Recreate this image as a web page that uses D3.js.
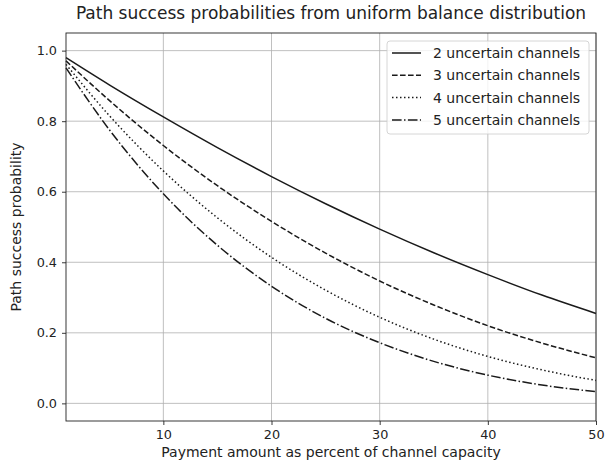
<!DOCTYPE html>
<html>
<head>
<meta charset="utf-8">
<script src="https://cdn.jsdelivr.net/npm/d3@7"></script>
<style>
  body { margin: 0; background: #fff; }
  text { font-family: "DejaVu Sans", sans-serif; fill: #222; }
</style>
</head>
<body>
<svg id="chart" width="616" height="466"></svg>
<script>
const xValues = [1, 5, 10, 15, 20, 25, 30, 35, 40, 45, 50];
const channels2 = [0.980, 0.903, 0.812, 0.725, 0.643, 0.566, 0.494, 0.427, 0.365, 0.307, 0.255];
const channels3 = [0.971, 0.859, 0.731, 0.617, 0.516, 0.426, 0.347, 0.279, 0.220, 0.171, 0.129];
const channels4 = [0.961, 0.816, 0.659, 0.526, 0.414, 0.321, 0.244, 0.182, 0.133, 0.095, 0.065];
const channels5 = [0.951, 0.776, 0.594, 0.448, 0.332, 0.241, 0.172, 0.119, 0.080, 0.052, 0.033];
const seriesNames = ["2 uncertain channels", "3 uncertain channels", "4 uncertain channels", "5 uncertain channels"];
const xTicks = [10, 20, 30, 40, 50];
const yTicks = [0.0, 0.2, 0.4, 0.6, 0.8, 1.0];

const series = [channels2, channels3, channels4, channels5];
const dashes = [null, "5.6,2.4", "1.5,2.5", "9.6,2.4,1.5,2.4"];

const svg = d3.select("#chart");
const pLeft = 66, pRight = 596, pTop = 33, pBottom = 421;
const x = d3.scaleLinear().domain([1, 50]).range([pLeft, pRight]);
const y = d3.scaleLinear().domain([-0.05, 1.05]).range([pBottom, pTop]);

// grid
svg.append("g").selectAll("line").data(xTicks).join("line")
  .attr("x1", d => x(d)).attr("x2", d => x(d)).attr("y1", pTop).attr("y2", pBottom)
  .attr("stroke", "#b0b0b0").attr("stroke-width", 0.8);
svg.append("g").selectAll("line").data(yTicks).join("line")
  .attr("x1", pLeft).attr("x2", pRight).attr("y1", d => y(d)).attr("y2", d => y(d))
  .attr("stroke", "#b0b0b0").attr("stroke-width", 0.8);

// lines
const line = d3.line().x((d, i) => x(xValues[i])).y(d => y(d)).curve(d3.curveMonotoneX);
series.forEach((s, k) => {
  svg.append("path").datum(s).attr("d", line)
    .attr("fill", "none").attr("stroke", "#1a1a1a").attr("stroke-width", 1.5)
    .attr("stroke-dasharray", dashes[k]);
});

// axes
const xAxis = d3.axisBottom(x).tickValues(xTicks).tickFormat(d3.format("d")).tickSize(4).tickPadding(4.5);
const yAxis = d3.axisLeft(y).tickValues(yTicks).tickFormat(d3.format(".1f")).tickSize(4).tickPadding(5);
const gx = svg.append("g").attr("transform", `translate(0,${pBottom})`).call(xAxis);
const gy = svg.append("g").attr("transform", `translate(${pLeft},0)`).call(yAxis);
[gx, gy].forEach(g => {
  g.select(".domain").remove();
  g.selectAll(".tick line").attr("stroke", "#222").attr("stroke-width", 0.9);
  g.selectAll(".tick text").attr("font-size", 12.8).style("font-family", "DejaVu Sans").attr("fill", "#222");
});

// frame
svg.append("rect").attr("x", pLeft).attr("y", pTop).attr("width", pRight - pLeft).attr("height", pBottom - pTop)
  .attr("fill", "none").attr("stroke", "#222").attr("stroke-width", 0.9);

// title and labels
svg.append("text").attr("x", (pLeft + pRight) / 2).attr("y", 19).attr("text-anchor", "middle")
  .attr("font-size", 17).text("Path success probabilities from uniform balance distribution");
svg.append("text").attr("x", (pLeft + pRight) / 2).attr("y", 457).attr("text-anchor", "middle")
  .attr("font-size", 14).text("Payment amount as percent of channel capacity");
svg.append("text").attr("transform", `translate(21,${(pTop + pBottom) / 2}) rotate(-90)`).attr("text-anchor", "middle")
  .attr("font-size", 14).text("Path success probability");

// legend
const lg = svg.append("g");
lg.append("rect").attr("x", 387).attr("y", 41).attr("width", 202).attr("height", 93).attr("rx", 3)
  .attr("fill", "#fff").attr("fill-opacity", 0.8).attr("stroke", "#ccc").attr("stroke-width", 0.8);
seriesNames.forEach((name, k) => {
  const yy = 53 + k * 22.3;
  lg.append("line").attr("x1", 392).attr("x2", 421).attr("y1", yy).attr("y2", yy)
    .attr("stroke", "#1a1a1a").attr("stroke-width", 1.5).attr("stroke-dasharray", dashes[k]);
  lg.append("text").attr("x", 433).attr("y", yy + 5).attr("font-size", 14).text(name);
});
</script>
</body>
</html>
